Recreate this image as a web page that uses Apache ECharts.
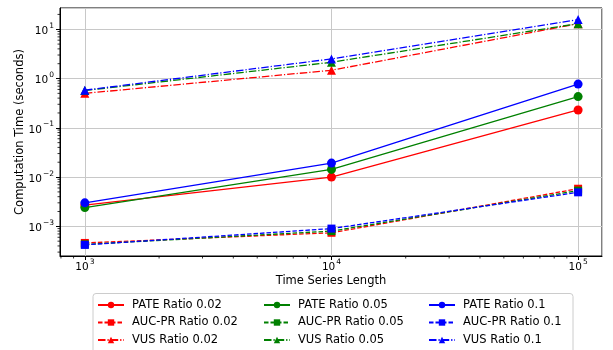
<!DOCTYPE html>
<html>
<head>
<meta charset="utf-8">
<script src="https://cdn.jsdelivr.net/npm/echarts@6/dist/echarts.min.js"></script>
<style>
  html, body { margin: 0; padding: 0; background: #fff; }
  #chart { width: 613px; height: 350px; }
</style>
</head>
<body>
<div id="chart"></div>
<script>
var lengths = [1000, 10000, 100000];
var ratios = ['0.02', '0.05', '0.1'];
var colors = ['#ff0000', '#008000', '#0000ff'];

// computation time (seconds), one array per method and ratio
var pate002 = [0.0027, 0.0100, 0.23];
var pate005 = [0.0024, 0.0143, 0.43];
var pate01  = [0.0030, 0.0192, 0.77];
var aucpr002 = [0.00046, 0.00074, 0.0058];
var aucpr005 = [0.00043, 0.00080, 0.0053];
var aucpr01  = [0.00042, 0.00090, 0.0049];
var vus002 = [0.50, 1.47, 13.0];
var vus005 = [0.57, 2.14, 13.0];
var vus01  = [0.58, 2.50, 15.7];

var xTicks = [1000, 10000, 100000];
var yTicks = [0.001, 0.01, 0.1, 1, 10];
var minorMult = [2, 3, 4, 5, 6, 7, 8, 9];

function powLabel(v) {
    var e = Math.round(Math.log10(v));
    return '{b|10}{sup|' + (e < 0 ? '\u2212' + (-e) : e) + '}';
}
var tickRich = {
    b: {fontSize: 10.5, lineHeight: 15, verticalAlign: 'bottom', color: '#000'},
    sup: {fontSize: 7.5, lineHeight: 8, verticalAlign: 'top', padding: [0, 0, 0, 1], color: '#000'}
};

var xMin = 793, xMax = 125000, yMin = 0.00025, yMax = 27;

// minor tick values inside the axis ranges (matplotlib style 2..9 x 10^n)
function minorValues(lo, hi, e0, e1) {
    var out = [];
    for (var e = e0; e <= e1; e++) {
        minorMult.forEach(function (m) {
            var v = m * Math.pow(10, e);
            if (v > lo && v < hi) out.push(v);
        });
    }
    return out;
}
var xMinor = minorValues(xMin, xMax, 2, 5);
var yMinor = minorValues(yMin, yMax, -4, 1);

var methods = [
    {name: 'PATE', symbol: 'circle', dash: 'solid', data: [pate002, pate005, pate01]},
    {name: 'AUC-PR', symbol: 'rect', dash: [4.5, 2], data: [aucpr002, aucpr005, aucpr01]},
    {name: 'VUS', symbol: 'triangle', dash: [7.5, 2, 1.2, 2], data: [vus002, vus005, vus01]}
];

var series = [];
var legendCols = [[], [], []];
ratios.forEach(function (r, ri) {
    methods.forEach(function (m) {
        var name = m.name + ' Ratio ' + r;
        legendCols[ri].push(name);
        series.push({
            name: name,
            type: 'line',
            symbol: m.symbol,
            symbolSize: m.symbol === 'rect' ? 8 : 9,
            showSymbol: true,
            color: colors[ri],
            lineStyle: {width: 1.3, type: m.dash},
            itemStyle: {color: colors[ri]},
            animation: false,
            data: lengths.map(function (x, i) { return [x, m.data[ri][i]]; })
        });
    });
});

// minor ticks drawn through the axes' own scales
series.push({
    type: 'custom',
    silent: true,
    animation: false,
    clip: false,
    data: xMinor.map(function (v) { return [v, yMin]; }),
    renderItem: function (params, api) {
        var p = api.coord([api.value(0), yMin]);
        return {type: 'line', shape: {x1: p[0], y1: p[1], x2: p[0], y2: p[1] + 2.5},
            style: {stroke: '#000', lineWidth: 0.8}};
    }
});
series.push({
    type: 'custom',
    silent: true,
    animation: false,
    clip: false,
    data: yMinor.map(function (v) { return [xMin, v]; }),
    renderItem: function (params, api) {
        var p = api.coord([xMin, api.value(1)]);
        return {type: 'line', shape: {x1: p[0], y1: p[1], x2: p[0] - 2.5, y2: p[1]},
            style: {stroke: '#000', lineWidth: 0.8}};
    }
});

var legendLeft = [97, 263, 428];
var legends = legendCols.map(function (names, i) {
    return {
        orient: 'vertical',
        left: legendLeft[i],
        top: 299,
        padding: 0,
        itemWidth: 26,
        itemHeight: 8,
        itemGap: 5.5,
        data: names,
        textStyle: {fontFamily: 'DejaVu Sans', fontSize: 11.5, color: '#000', padding: [0, 0, 0, 3]}
    };
});

var option = {
    animation: false,
    textStyle: {fontFamily: 'DejaVu Sans'},
    grid: {left: 60, right: 11, top: 8, bottom: 94, outerBoundsMode: 'none',
        show: true, borderColor: '#000', borderWidth: 1},
    legend: legends,
    graphic: [{
        type: 'rect',
        shape: {x: 93, y: 293.5, width: 480, height: 60, r: 3},
        style: {fill: 'none', stroke: '#cccccc', lineWidth: 1},
        z: -1
    }],
    xAxis: {
        type: 'log',
        logBase: 10,
        min: xMin,
        max: xMax,
        name: 'Time Series Length',
        nameLocation: 'middle',
        nameGap: 19,
        nameMoveOverlap: false,
        nameTextStyle: {fontSize: 11.5, color: '#000'},
        axisLine: {show: true, lineStyle: {color: '#000'}},
        axisTick: {show: true, length: 4, lineStyle: {color: '#000'}},
        axisLabel: {
            color: '#000', margin: 2,
            showMinLabel: false, showMaxLabel: false,
            rich: tickRich,
            formatter: function (v) {
                return xTicks.indexOf(Math.round(v)) >= 0 ? powLabel(v) : '';
            }
        },
        splitLine: {show: true, lineStyle: {color: '#c8c8c8', width: 1}}
    },
    yAxis: {
        type: 'log',
        logBase: 10,
        min: yMin,
        max: yMax,
        name: 'Computation Time (seconds)',
        nameLocation: 'middle',
        nameRotate: 90,
        nameGap: 34,
        nameMoveOverlap: false,
        nameTextStyle: {fontSize: 11.5, color: '#000'},
        axisLine: {show: true, lineStyle: {color: '#000'}},
        axisTick: {show: true, length: 4, lineStyle: {color: '#000'}},
        axisLabel: {
            color: '#000', margin: 6,
            showMinLabel: false, showMaxLabel: false,
            rich: tickRich,
            formatter: function (v) {
                var ok = yTicks.some(function (t) { return Math.abs(t - v) / t < 1e-6; });
                return ok ? powLabel(v) : '';
            }
        },
        splitLine: {show: true, lineStyle: {color: '#c8c8c8', width: 1}}
    },
    series: series
};

var chart = echarts.init(document.getElementById('chart'));
chart.setOption(option);
window.onresize = function () {
    chart.resize();
};
</script>
</body>
</html>
